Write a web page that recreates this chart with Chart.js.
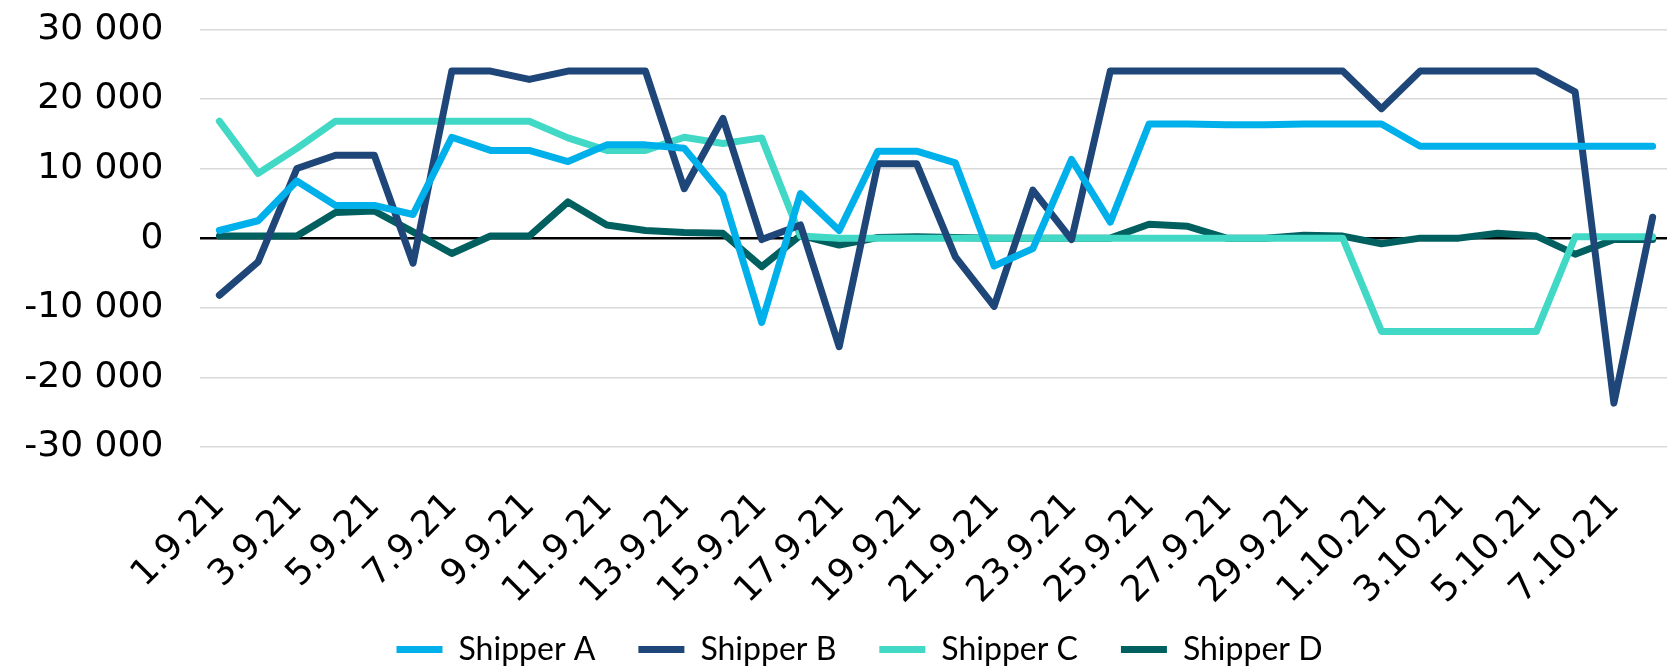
<!DOCTYPE html>
<html>
<head>
<meta charset="utf-8">
<script src="https://cdn.jsdelivr.net/npm/chart.js@4"></script>
<style>
  html, body { margin: 0; padding: 0; background: #fff; overflow: hidden; }
  #wrap { width: 1672px; height: 666px; }
</style>
</head>
<body>
<div id="wrap"><canvas id="chart" width="1672" height="666"></canvas></div>
<script>
// ==== DATA ====
const days = [
  "1.9.21", "2.9.21", "3.9.21", "4.9.21", "5.9.21", "6.9.21", "7.9.21", "8.9.21", "9.9.21", "10.9.21",
  "11.9.21", "12.9.21", "13.9.21", "14.9.21", "15.9.21", "16.9.21", "17.9.21", "18.9.21", "19.9.21", "20.9.21",
  "21.9.21", "22.9.21", "23.9.21", "24.9.21", "25.9.21", "26.9.21", "27.9.21", "28.9.21", "29.9.21", "30.9.21",
  "1.10.21", "2.10.21", "3.10.21", "4.10.21", "5.10.21", "6.10.21", "7.10.21", "8.10.21"
];

const shipperA = [1100, 2500, 8200, 4700, 4700, 3400, 14500, 12600, 12600, 11000,
  13400, 13400, 12900, 6200, -12100, 6400, 1100, 12500, 12500, 10800,
  -4000, -1500, 11300, 2300, 16400, 16400, 16300, 16300, 16400, 16400,
  16400, 13200, 13200, 13200, 13200, 13200, 13200, 13200];

const shipperB = [-8200, -3400, 10000, 11900, 11900, -3600, 24000, 24000, 22800, 24000,
  24000, 24000, 7100, 17200, -200, 1900, -15600, 10700, 10700, -2700,
  -9800, 6900, -200, 24000, 24000, 24000, 24000, 24000, 24000, 24000,
  18600, 24000, 24000, 24000, 24000, 21000, -23700, 3000];

const shipperC = [16800, 9300, 12900, 16800, 16800, 16800, 16800, 16800, 16800, 14400,
  12600, 12600, 14500, 13600, 14400, 300, 0, 0, 0, 0,
  0, 0, 0, 0, 0, 0, 0, 0, 0, 0,
  -13400, -13400, -13400, -13400, -13400, 200, 200, 200];

const shipperD = [300, 300, 300, 3700, 3900, 900, -2200, 300, 300, 5200,
  1900, 1100, 800, 700, -4100, 400, -1000, 100, 200, 100,
  0, 0, 0, 0, 2000, 1700, 0, 0, 400, 300,
  -800, 0, 0, 700, 300, -2300, -200, -200];

const yTicks = [-30000, -20000, -10000, 0, 10000, 20000, 30000];

// ==== STYLE ====
const tickFont = { family: "DejaVu Sans", size: 36 };
const legendFont = { family: "Lato", size: 32 };
Chart.defaults.color = "#000";

function fmt(v) {
  const s = Math.abs(v).toString().replace(/\B(?=(\d{3})+(?!\d))/g, " ");
  return (v < 0 ? "-" : "") + s;
}

function ds(label, data, color) {
  return {
    label: label,
    data: data,
    borderColor: color,
    backgroundColor: color,
    borderWidth: 7,
    borderCapStyle: "round",
    borderJoinStyle: "round",
    pointRadius: 0,
    pointHoverRadius: 0,
    tension: 0,
    fill: false
  };
}

// legend sits under the rotated labels, a bit right of centre
const legendPlace = {
  id: "legendPlace",
  afterLayout(chart) {
    const lg = chart.legend;
    lg.left += 23.5;
    lg.right += 23.5;
    lg.top = 590.5;
    lg.bottom = chart.height;
    lg.height = lg.bottom - lg.top;
  }
};

const ctx = document.getElementById("chart").getContext("2d");
new Chart(ctx, {
  type: "line",
  data: {
    labels: days,
    datasets: [
      ds("Shipper A", shipperA, "#00b0ea"),
      ds("Shipper B", shipperB, "#1f4678"),
      ds("Shipper C", shipperC, "#41d9c5"),
      ds("Shipper D", shipperD, "#00605f")
    ]
  },
  plugins: [legendPlace],
  options: {
    responsive: false,
    animation: false,
    layout: { padding: { top: 29.3, left: 0, right: 0, bottom: 0 } },
    plugins: {
      tooltip: { enabled: false },
      legend: {
        position: "bottom",
        maxHeight: 1,
        labels: {
          usePointStyle: true,
          pointStyle: "line",
          pointStyleWidth: 46,
          padding: 43,
          color: "#000",
          font: legendFont
        }
      }
    },
    scales: {
      x: {
        offset: true,
        grid: { display: false },
        border: { display: false },
        ticks: {
          autoSkip: false,
          minRotation: 45,
          maxRotation: 45,
          padding: 30,
          color: "#000",
          font: tickFont,
          callback: function (v, i) { return i % 2 === 0 ? this.getLabelForValue(v) : ""; }
        },
        afterFit: function (s) { s.height = 218; s.paddingLeft = 0; s.paddingRight = 0; }
      },
      y: {
        min: yTicks[0],
        max: yTicks[yTicks.length - 1],
        afterBuildTicks: function (s) { s.ticks = yTicks.map(v => ({ value: v })); },
        grid: {
          drawTicks: false,
          color: c => c.tick && c.tick.value === 0 ? "#000" : "#d9d9d9",
          lineWidth: c => c.tick && c.tick.value === 0 ? 2.5 : 1.5
        },
        border: { display: false },
        ticks: {
          padding: 36.7,
          color: "#000",
          font: tickFont,
          callback: v => fmt(v)
        },
        afterFit: function (s) { s.width = 200; s.paddingTop = 0; s.paddingBottom = 0; }
      }
    }
  }
});
</script>
</body>
</html>
